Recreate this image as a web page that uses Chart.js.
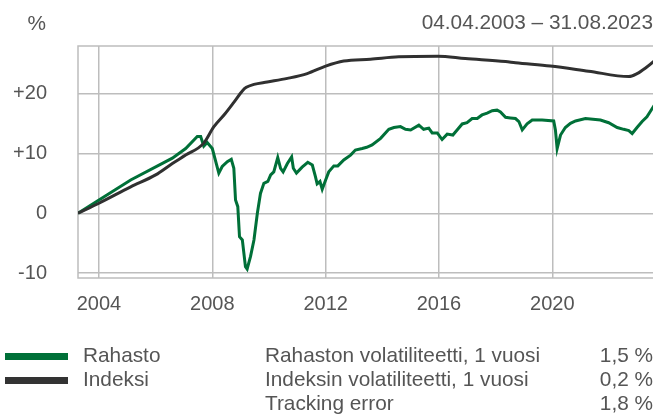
<!DOCTYPE html>
<html><head><meta charset="utf-8">
<script src="https://cdn.jsdelivr.net/npm/chart.js@4"></script>
<style>
html,body{margin:0;padding:0;background:#fff;overflow:hidden;width:653px;height:414px;}
#wrap{position:absolute;left:0;top:0;width:656px;height:414px;}
.t{position:absolute;font-family:"Liberation Sans",Arial,Helvetica,sans-serif;font-size:20.8px;color:#555;line-height:24px;white-space:nowrap;}
.sw{position:absolute;left:5px;width:63px;height:7px;}
</style></head><body>
<div id="wrap"><canvas id="c" width="656" height="414"></canvas></div>
<div class="t" style="right:607px;top:11px;">%</div>
<div class="t" style="right:0px;top:10px;">04.04.2003 – 31.08.2023</div>
<div class="sw" style="top:353px;background:#007038;"></div>
<div class="sw" style="top:377px;background:#333333;"></div>
<div class="t" style="left:83px;top:343px;">Rahasto</div>
<div class="t" style="left:83px;top:367px;">Indeksi</div>
<div class="t" style="left:265px;top:343px;">Rahaston volatiliteetti, 1 vuosi</div>
<div class="t" style="left:265px;top:367px;">Indeksin volatiliteetti, 1 vuosi</div>
<div class="t" style="left:265px;top:391px;">Tracking error</div>
<div class="t" style="right:0px;top:343px;">1,5 %</div>
<div class="t" style="right:0px;top:367px;">0,2 %</div>
<div class="t" style="right:0px;top:391px;">1,8 %</div>
<script>
// Data (decimal years, % change)
const rahastoYears = [2003.26,2004.0,2005.12,2006.59,2007.06,2007.47,2007.59,2007.7,2007.82,2008.0,2008.23,2008.35,2008.53,2008.67,2008.76,2008.82,2008.9,2008.96,2009.06,2009.17,2009.23,2009.35,2009.47,2009.59,2009.7,2009.82,2009.96,2010.06,2010.17,2010.31,2010.41,2010.5,2010.65,2010.8,2010.86,2010.97,2011.17,2011.37,2011.53,2011.64,2011.7,2011.8,2011.88,2012.0,2012.11,2012.29,2012.43,2012.64,2012.88,2013.05,2013.29,2013.45,2013.64,2013.94,2014.23,2014.41,2014.64,2014.82,2015.0,2015.29,2015.46,2015.64,2015.76,2015.94,2016.11,2016.29,2016.49,2016.64,2016.82,2016.99,2017.17,2017.35,2017.52,2017.7,2017.88,2018.05,2018.17,2018.35,2018.52,2018.7,2018.82,2018.94,2019.11,2019.29,2019.46,2019.64,2020.05,2020.11,2020.17,2020.29,2020.46,2020.64,2020.82,2021.17,2021.7,2021.99,2022.29,2022.52,2022.7,2022.82,2022.99,2023.17,2023.34,2023.57,2023.66];
const rahastoValues = [0,2.2,5.55,9.2,10.8,12.8,12.8,11.2,11.8,10.8,6.7,7.8,8.6,9.0,7.5,2.2,1.1,-3.9,-4.45,-8.9,-9.3,-7.2,-4.45,0,3.3,5.0,5.3,6.4,6.9,9.3,7.5,6.9,8.3,9.4,7.5,6.7,7.7,8.5,8.05,6.1,4.9,5.3,4.0,5.55,6.9,7.9,7.9,8.9,9.7,10.55,10.8,11.0,11.4,12.5,14.0,14.3,14.45,14.0,13.9,14.7,14.0,14.2,13.4,13.4,12.3,13.2,13.05,13.9,14.9,15.1,15.8,15.8,16.4,16.7,17.1,17.2,16.9,16.0,15.9,15.8,15.3,13.9,14.9,15.55,15.55,15.55,15.4,13.9,10.8,13.05,14.3,15.0,15.4,15.8,15.55,15.1,14.3,14.0,13.8,13.3,14.3,15.3,16.1,17.8,18.4];
const indeksiYears = [2003.26,2004.0,2005.12,2006.0,2006.59,2007.06,2007.7,2008.05,2008.45,2008.76,2009.06,2009.2,2009.47,2009.94,2010.65,2011.35,2012.0,2012.64,2013.58,2014.58,2015.96,2016.93,2018.35,2018.7,2019.93,2021.28,2022.7,2022.99,2023.28,2023.57,2023.66];
const indeksiValues = [0,1.67,4.4,6.4,8.3,9.7,11.7,14.4,16.6,18.5,20.4,21.0,21.5,21.9,22.5,23.3,24.55,25.4,25.7,26.1,26.2,25.8,25.3,25.1,24.55,23.7,22.8,23.3,24.2,25.3,25.7];
const yearTicks = [2004,2008,2012,2016,2020];
const valueTicks = [-10,0,10,20];
const xMin = 2003.26, xMax = 2023.66, yMin = -10.8, yMax = 27.9;

const gridColor = '#bdbdbd';
const borderPlugin = {
  id:'frame',
  beforeDatasetsDraw(chart){
    const a = chart.chartArea, ctx = chart.ctx;
    ctx.save();
    ctx.strokeStyle = gridColor; ctx.lineWidth = 1.5;
    ctx.strokeRect(a.left, a.top, a.right - a.left + 5, a.bottom - a.top);
    ctx.restore();
  }
};
const font = {family:'"Liberation Sans", Arial, Helvetica, sans-serif', size:20};
new Chart(document.getElementById('c'), {
  type:'line',
  data:{datasets:[
    {label:'Rahasto', data:rahastoYears.map((x,i)=>({x, y:rahastoValues[i]})), borderColor:'#007038', borderWidth:3, pointRadius:0, tension:0, order:1},
    {label:'Indeksi', data:indeksiYears.map((x,i)=>({x, y:indeksiValues[i]})), borderColor:'#303030', borderWidth:3, pointRadius:0, cubicInterpolationMode:'monotone', order:0}
  ]},
  options:{
    responsive:false, animation:false, devicePixelRatio:1,
    layout:{padding:{top:46,left:0,right:0,bottom:0}},
    plugins:{legend:{display:false}, tooltip:{enabled:false}},
    scales:{
      x:{type:'linear', min:xMin, max:xMax,
        afterBuildTicks:s=>{s.ticks = yearTicks.map(v=>({value:v}));},
        afterFit:s=>{s.height = 136;},
        grid:{color:gridColor, lineWidth:1.5, drawTicks:false},
        border:{display:false},
        ticks:{font, color:'#555', padding:14, maxRotation:0, autoSkip:false, callback:v=>String(v)}
      },
      y:{min:yMin, max:yMax,
        afterBuildTicks:s=>{s.ticks = valueTicks.map(v=>({value:v}));},
        afterFit:s=>{s.width = 78;},
        grid:{color:gridColor, lineWidth:1.5, drawTicks:false},
        border:{display:false},
        ticks:{font, color:'#555', padding:31, callback:v=> v>0 ? '+'+v : String(v)}
      }
    }
  },
  plugins:[borderPlugin]
});
</script>
</body></html>
